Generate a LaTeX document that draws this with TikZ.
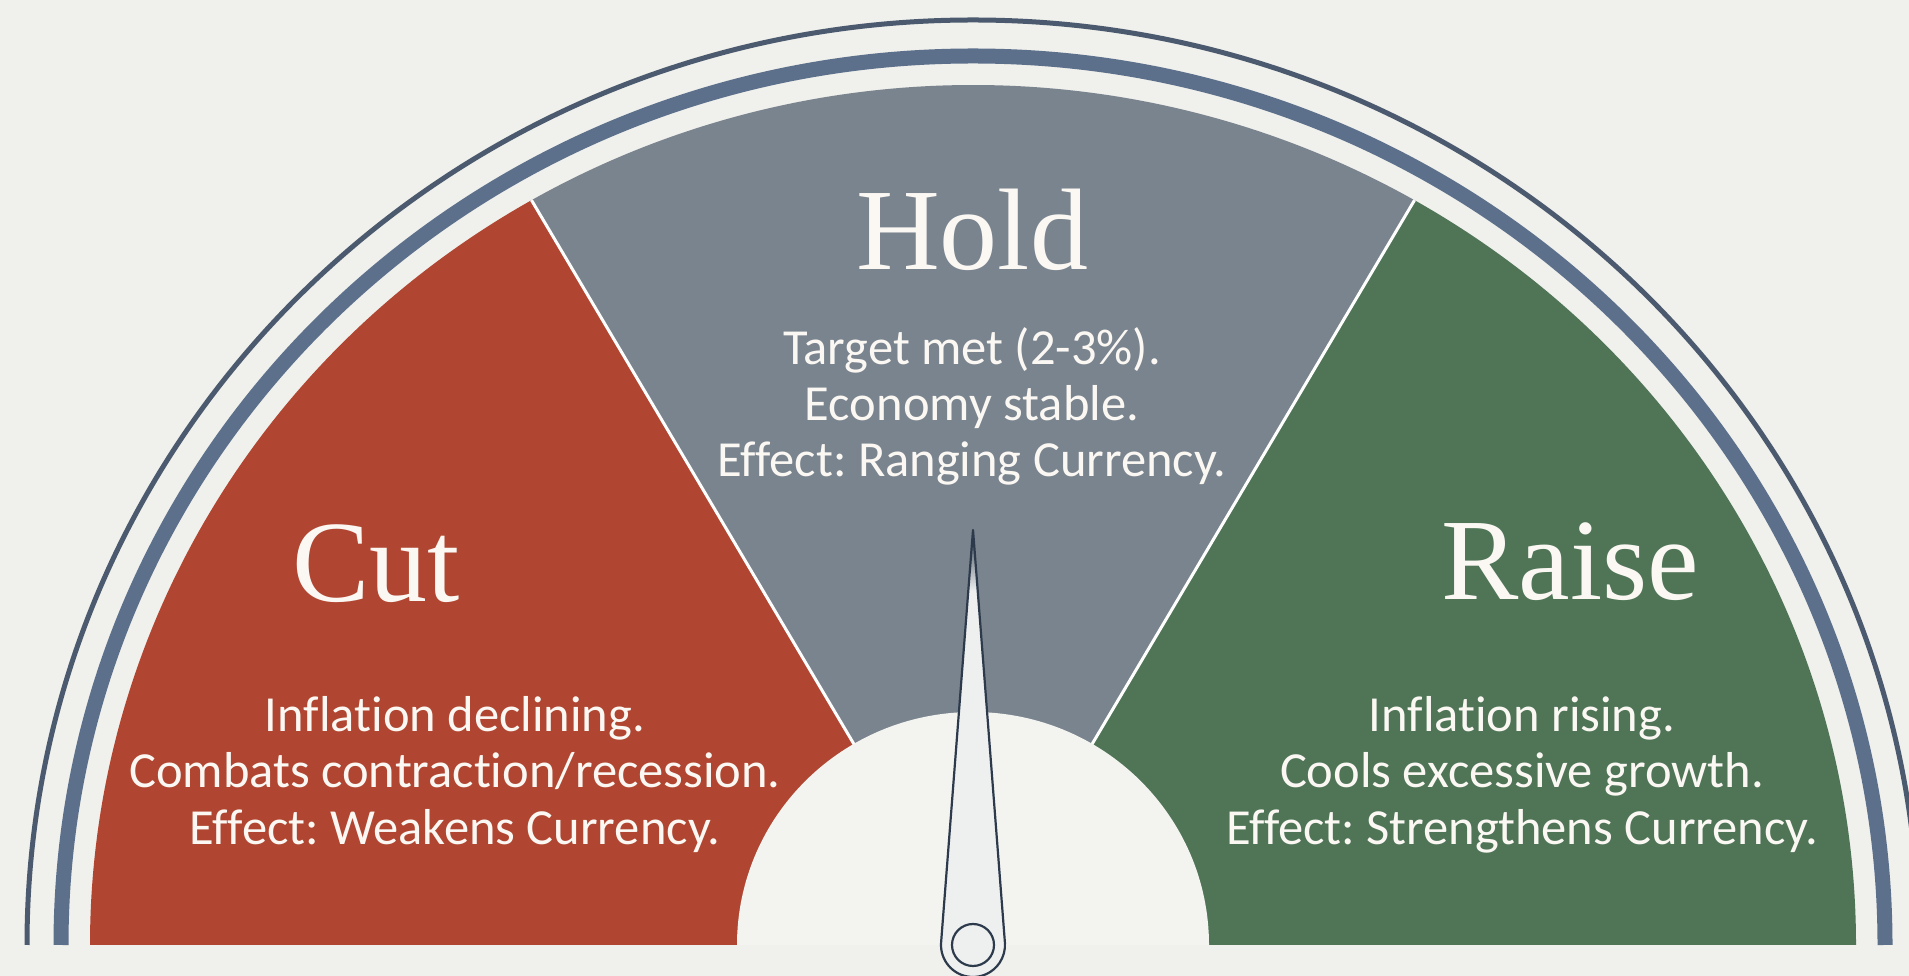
\documentclass[tikz,border=0pt]{standalone}
\usepackage{fontspec}
\newfontfamily\bodyfont{Carlito}[Ligatures=CommonOff]
\newfontfamily\titlefont{Liberation Serif}
\frenchspacing
\definecolor{bg}{HTML}{F0F0EC}
\definecolor{hubc}{HTML}{F3F3F0}
\definecolor{cutred}{HTML}{B04631}
\definecolor{holdgray}{HTML}{7A848E}
\definecolor{raisegreen}{HTML}{4F7556}
\definecolor{thickarc}{HTML}{5C708C}
\definecolor{thinarc}{HTML}{4B5A6E}
\definecolor{needleline}{HTML}{2C3A4C}
\definecolor{needlefill}{HTML}{EEF0F0}
\definecolor{txt}{HTML}{FBF8F4}
\tikzset{
  divider/.style={draw=white, line width=3},
  titletxt/.style={text=txt, anchor=base, inner sep=0, font=\titlefont\fontsize{116}{120}\selectfont},
  bodytxt/.style={text=txt, anchor=base, inner sep=0, font=\bodyfont\frenchspacing\fontsize{50.5}{56}\selectfont},
  needlestroke/.style={draw=needleline, line width=2.2},
}
\begin{document}
\begin{tikzpicture}[x=1pt,y=1pt]
\useasboundingbox (0,0) rectangle (1909,976);
\fill[bg] (0,0) rectangle (1909,976);
\coordinate (C) at (973,31);
% outer arcs
\draw[thinarc, line width=5] (C) ++(180:946 and 925) arc[start angle=180, end angle=0, x radius=946, y radius=925];
\draw[thickarc, line width=15] (C) ++(180:912 and 889) arc[start angle=180, end angle=0, x radius=912, y radius=889];
% sectors
\fill[cutred] (C) -- ++(180:883 and 860) arc[start angle=180, end angle=120, x radius=883, y radius=860] -- cycle;
\fill[holdgray] (C) -- ++(120:883 and 860) arc[start angle=120, end angle=60, x radius=883, y radius=860] -- cycle;
\fill[raisegreen] (C) -- ++(60:883 and 860) arc[start angle=60, end angle=0, x radius=883, y radius=860] -- cycle;
\draw[divider] (C) -- ++(120:883 and 860);
\draw[divider] (C) -- ++(60:883 and 860);
% hub
\fill[hubc] (C) ++(0:236 and 233) arc[start angle=0, end angle=180, x radius=236, y radius=233] -- cycle;
% titles
\node[titletxt] (hold) at (972,706) {Hold};
\node[titletxt] (cut) at (376,374) {Cut};
\node[titletxt] (raise) at (1570,376) {Raise};
% body texts
\node[bodytxt] (hold1) at (972,611) {Target met (2-3\%).};
\node[bodytxt] (hold2) at (972,555) {Economy stable.};
\node[bodytxt] (hold3) at (972,499) {Effect: Ranging Currency.};
\node[bodytxt] (cut1) at (455,244) {Inflation declining.};
\node[bodytxt] (cut2) at (455,188) {Combats contraction/recession.};
\node[bodytxt] (cut3) at (455,131) {Effect: Weakens Currency.};
\node[bodytxt] (raise1) at (1522,244) {Inflation rising.};
\node[bodytxt] (raise2) at (1522,188) {Cools excessive growth.};
\node[bodytxt] (raise3) at (1522,131) {Effect: Strengthens Currency.};
% needle
\coordinate (T) at (973,446);
\coordinate (B) at (973,31);
\fill[needlefill] (T) -- ([shift={(B)}]175.58:32) arc[start angle=175.58, end angle=364.42, radius=32] -- cycle;
\begin{scope}
  \clip (T) -- ([shift={(B)}]175.58:32) arc[start angle=175.58, end angle=364.42, radius=32] -- cycle;
  \shade[top color=needleline, bottom color=needlefill] (930,385) rectangle (1016,446);
\end{scope}
\draw[needlestroke, line join=round] (T) -- ([shift={(B)}]175.58:32) arc[start angle=175.58, end angle=364.42, radius=32] -- cycle;
\draw[needlestroke] (B) circle[radius=21];
\end{tikzpicture}
\end{document}
